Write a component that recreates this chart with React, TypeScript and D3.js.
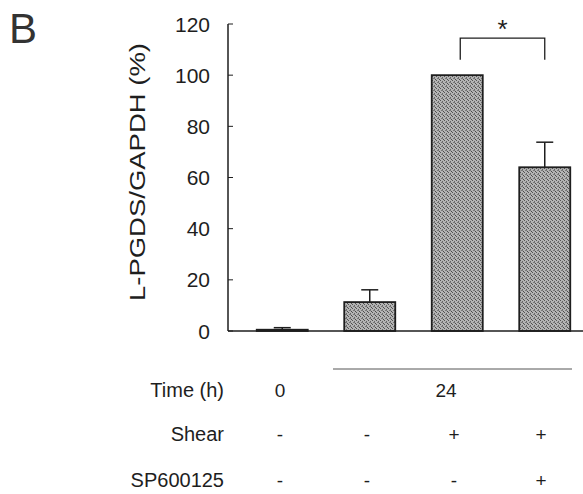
import React from "react";
import * as d3 from "d3";

// values
const groups = ["g1", "g2", "g3", "g4"];
const means = [0.5, 11.3, 100, 64];
const errors = [0.8, 4.8, 0, 9.8];
const yTicks = [0, 20, 40, 60, 80, 100, 120];
const timeLabels = ["0", "24"];
const shearRow = ["-", "-", "+", "+"];
const inhibitorRow = ["-", "-", "-", "+"];

const W = 583;
const H = 494;
const font = "'Liberation Sans', Arial, Helvetica, sans-serif";
const ink = "#1e1e1e";

const App = () => {
  const axisX = 228;
  const yScale = d3.scaleLinear().domain([0, 120]).range([331, 24]);
  const xScale = d3.scaleBand<string>()
    .domain(groups)
    .range([238.5, 588.5])
    .paddingInner(0.417)
    .paddingOuter(0.2085);
  // column positions for the table under the chart
  const colScale = d3.scalePoint<string>().domain(groups).range([280, 541]);

  const bw = xScale.bandwidth();
  const cx = (g: string) => (xScale(g) as number) + bw / 2;

  return (
    <svg width={W} height={H} style={{display: "block", position: "absolute", left: 0, top: 0}}
         fontFamily={font} fill={ink}>
      <defs>
        {/* grainy print look of the bars */}
        <pattern id="grain" width={4} height={4} patternUnits="userSpaceOnUse">
          <rect width={4} height={4} fill="#b4b4b4" />
          <rect x={0} y={0} width={1} height={1} fill="#555" />
          <rect x={2} y={1} width={1} height={1} fill="#666" />
          <rect x={1} y={2} width={2} height={1} fill="#777" />
          <rect x={3} y={3} width={1} height={1} fill="#4a4a4a" />
        </pattern>
      </defs>
      <rect width={W} height={H} fill="#fff" />

      {/* panel letter */}
      <text x={9} y={43} fontSize={42} fontWeight={300} fill="#333">B</text>

      {/* y label */}
      <text transform="translate(145,172) rotate(-90)" textAnchor="middle" fontSize={22}
            textLength={258} lengthAdjust="spacingAndGlyphs">L-PGDS/GAPDH (%)</text>

      {/* bars */}
      {groups.map((g, i) => (
        <rect key={g} x={xScale(g)} y={yScale(means[i])} width={bw}
              height={yScale(0) - yScale(means[i])}
              fill="url(#grain)" stroke={ink} strokeWidth={1.8} />
      ))}

      {/* error bars */}
      {groups.map((g, i) => errors[i] > 0 ? (
        <g key={"e" + g} stroke={ink} strokeWidth={1.5}>
          <line x1={cx(g)} x2={cx(g)} y1={yScale(means[i])} y2={yScale(means[i] + errors[i])} />
          <line x1={cx(g) - 8.5} x2={cx(g) + 8.5} y1={yScale(means[i] + errors[i])}
                y2={yScale(means[i] + errors[i])} />
        </g>
      ) : null)}

      {/* y axis */}
      <line x1={axisX} x2={axisX} y1={yScale(120)} y2={yScale(0)} stroke={ink} strokeWidth={1.5} />
      {yTicks.map(t => (
        <g key={t}>
          <line x1={axisX} x2={axisX + 5} y1={yScale(t)} y2={yScale(t)} stroke={ink} strokeWidth={1} />
          <text x={210} y={yScale(t) + 7.5} textAnchor="end" fontSize={21}>{t}</text>
        </g>
      ))}

      {/* x baseline */}
      <line x1={axisX} x2={W} y1={yScale(0)} y2={yScale(0)} stroke={ink} strokeWidth={1.5} />

      {/* significance bracket */}
      <path d={`M${cx("g3") + 3},${yScale(106)} V${yScale(114.5)} H${cx("g4")} V${yScale(106)}`}
            fill="none" stroke={ink} strokeWidth={1.3} />
      <text x={(cx("g3") + 3 + cx("g4")) / 2} y={38} textAnchor="middle" fontSize={26}>*</text>

      {/* table under the chart */}
      <line x1={333} x2={572} y1={369} y2={369} stroke="#555" strokeWidth={1} />
      <text x={224} y={397} textAnchor="end" fontSize={20}>Time (h)</text>
      <text x={colScale("g1")} y={397} textAnchor="middle" fontSize={19}>{timeLabels[0]}</text>
      <text x={(colScale("g2")! + colScale("g4")!) / 2 - 8} y={397} textAnchor="middle" fontSize={19}>
        {timeLabels[1]}
      </text>

      <text x={224} y={441} textAnchor="end" fontSize={20}>Shear</text>
      {shearRow.map((s, i) => (
        <text key={"s" + i} x={colScale(groups[i])} y={441} textAnchor="middle" fontSize={19}>{s}</text>
      ))}

      <text x={224} y={487} textAnchor="end" fontSize={20}>SP600125</text>
      {inhibitorRow.map((s, i) => (
        <text key={"p" + i} x={colScale(groups[i])} y={487} textAnchor="middle" fontSize={19}>{s}</text>
      ))}
    </svg>
  );
};

export default App;
